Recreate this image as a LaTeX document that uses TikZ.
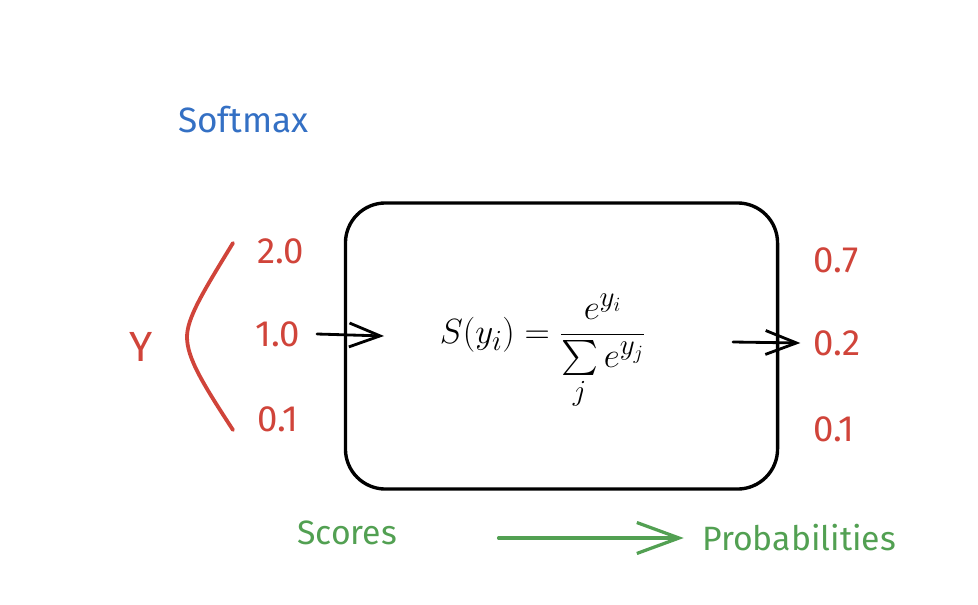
\documentclass[tikz,border=0pt]{standalone}
\usepackage{fontspec}
\setmainfont{Fira Sans}
\usepackage{amsmath}
\usetikzlibrary{arrows.meta, positioning}
\definecolor{sred}{RGB}{208,68,58}
\definecolor{sgreen}{RGB}{82,160,82}
\definecolor{sblue}{RGB}{52,112,196}

\begin{document}
\begin{tikzpicture}[
    x=0.025cm, y=-0.025cm,
    lbl/.style={anchor=west, inner sep=0pt, font=\fontsize{24}{28}\selectfont},
    score/.style={lbl, text=sred, font=\fontsize{26}{30}\selectfont},
    arrow/.style={line width=2pt, line cap=round, -{Straight Barb[length=22pt, width=17pt, line width=2pt]}},
    garrow/.style={line width=2.3pt, line cap=round, draw=sgreen, -{Straight Barb[length=30pt, width=22pt, line width=2.3pt]}}
]
\useasboundingbox (0,0) rectangle (978,604);

% Title
\node[lbl, text=sblue, font=\fontsize{25}{29}\selectfont] (title) at (178,120) {Softmax};

% Softmax box
\node[draw, line width=2.4pt, rounded corners=1cm, minimum width=10.8cm, minimum height=7.15cm] (box) at (561.5,346) {};
\node (formula) at (543,352) {\fontsize{29}{34}\selectfont$\displaystyle S(y_i) = \frac{e^{y_i}}{\sum\limits_j e^{y_j}}$};

% Scores
\node[lbl, text=sred, font=\fontsize{30}{34}\selectfont] (ylbl) at (129,347) {Y};
\node[score] (sA) at (257,251) {2.0};
\node[score] (sB) at (255,334) {1.0};
\node[score] (sC) at (257,419) {0.1};
\draw[sred, line width=2.7pt, line cap=round] (233,243) .. controls (203,292) and (187,318) .. (187,337)
    .. controls (187,358) and (203,384) .. (233,430);

% Probabilities
\node[score] (pA) at (813,260) {0.7};
\node[score] (pB) at (813,343) {0.2};
\node[score] (pC) at (813,429) {0.1};

% Arrows
\coordinate (inTip) at (384,336);
\coordinate (outTail) at (733,342);
\draw[arrow] ([xshift=12pt]sB.east) -- (inTip);
\draw[arrow] (outTail) -- ([xshift=-9pt]pB.west);

% Bottom labels
\node[lbl, text=sgreen] (scores) at (297,533) {Scores};
\node[lbl, text=sgreen] (probs) at (702,538) {Probabilities};
\draw[garrow] ([xshift=72pt]scores.east |- probs.west) -- ([xshift=-13pt]probs.west);

\end{tikzpicture}
\end{document}
